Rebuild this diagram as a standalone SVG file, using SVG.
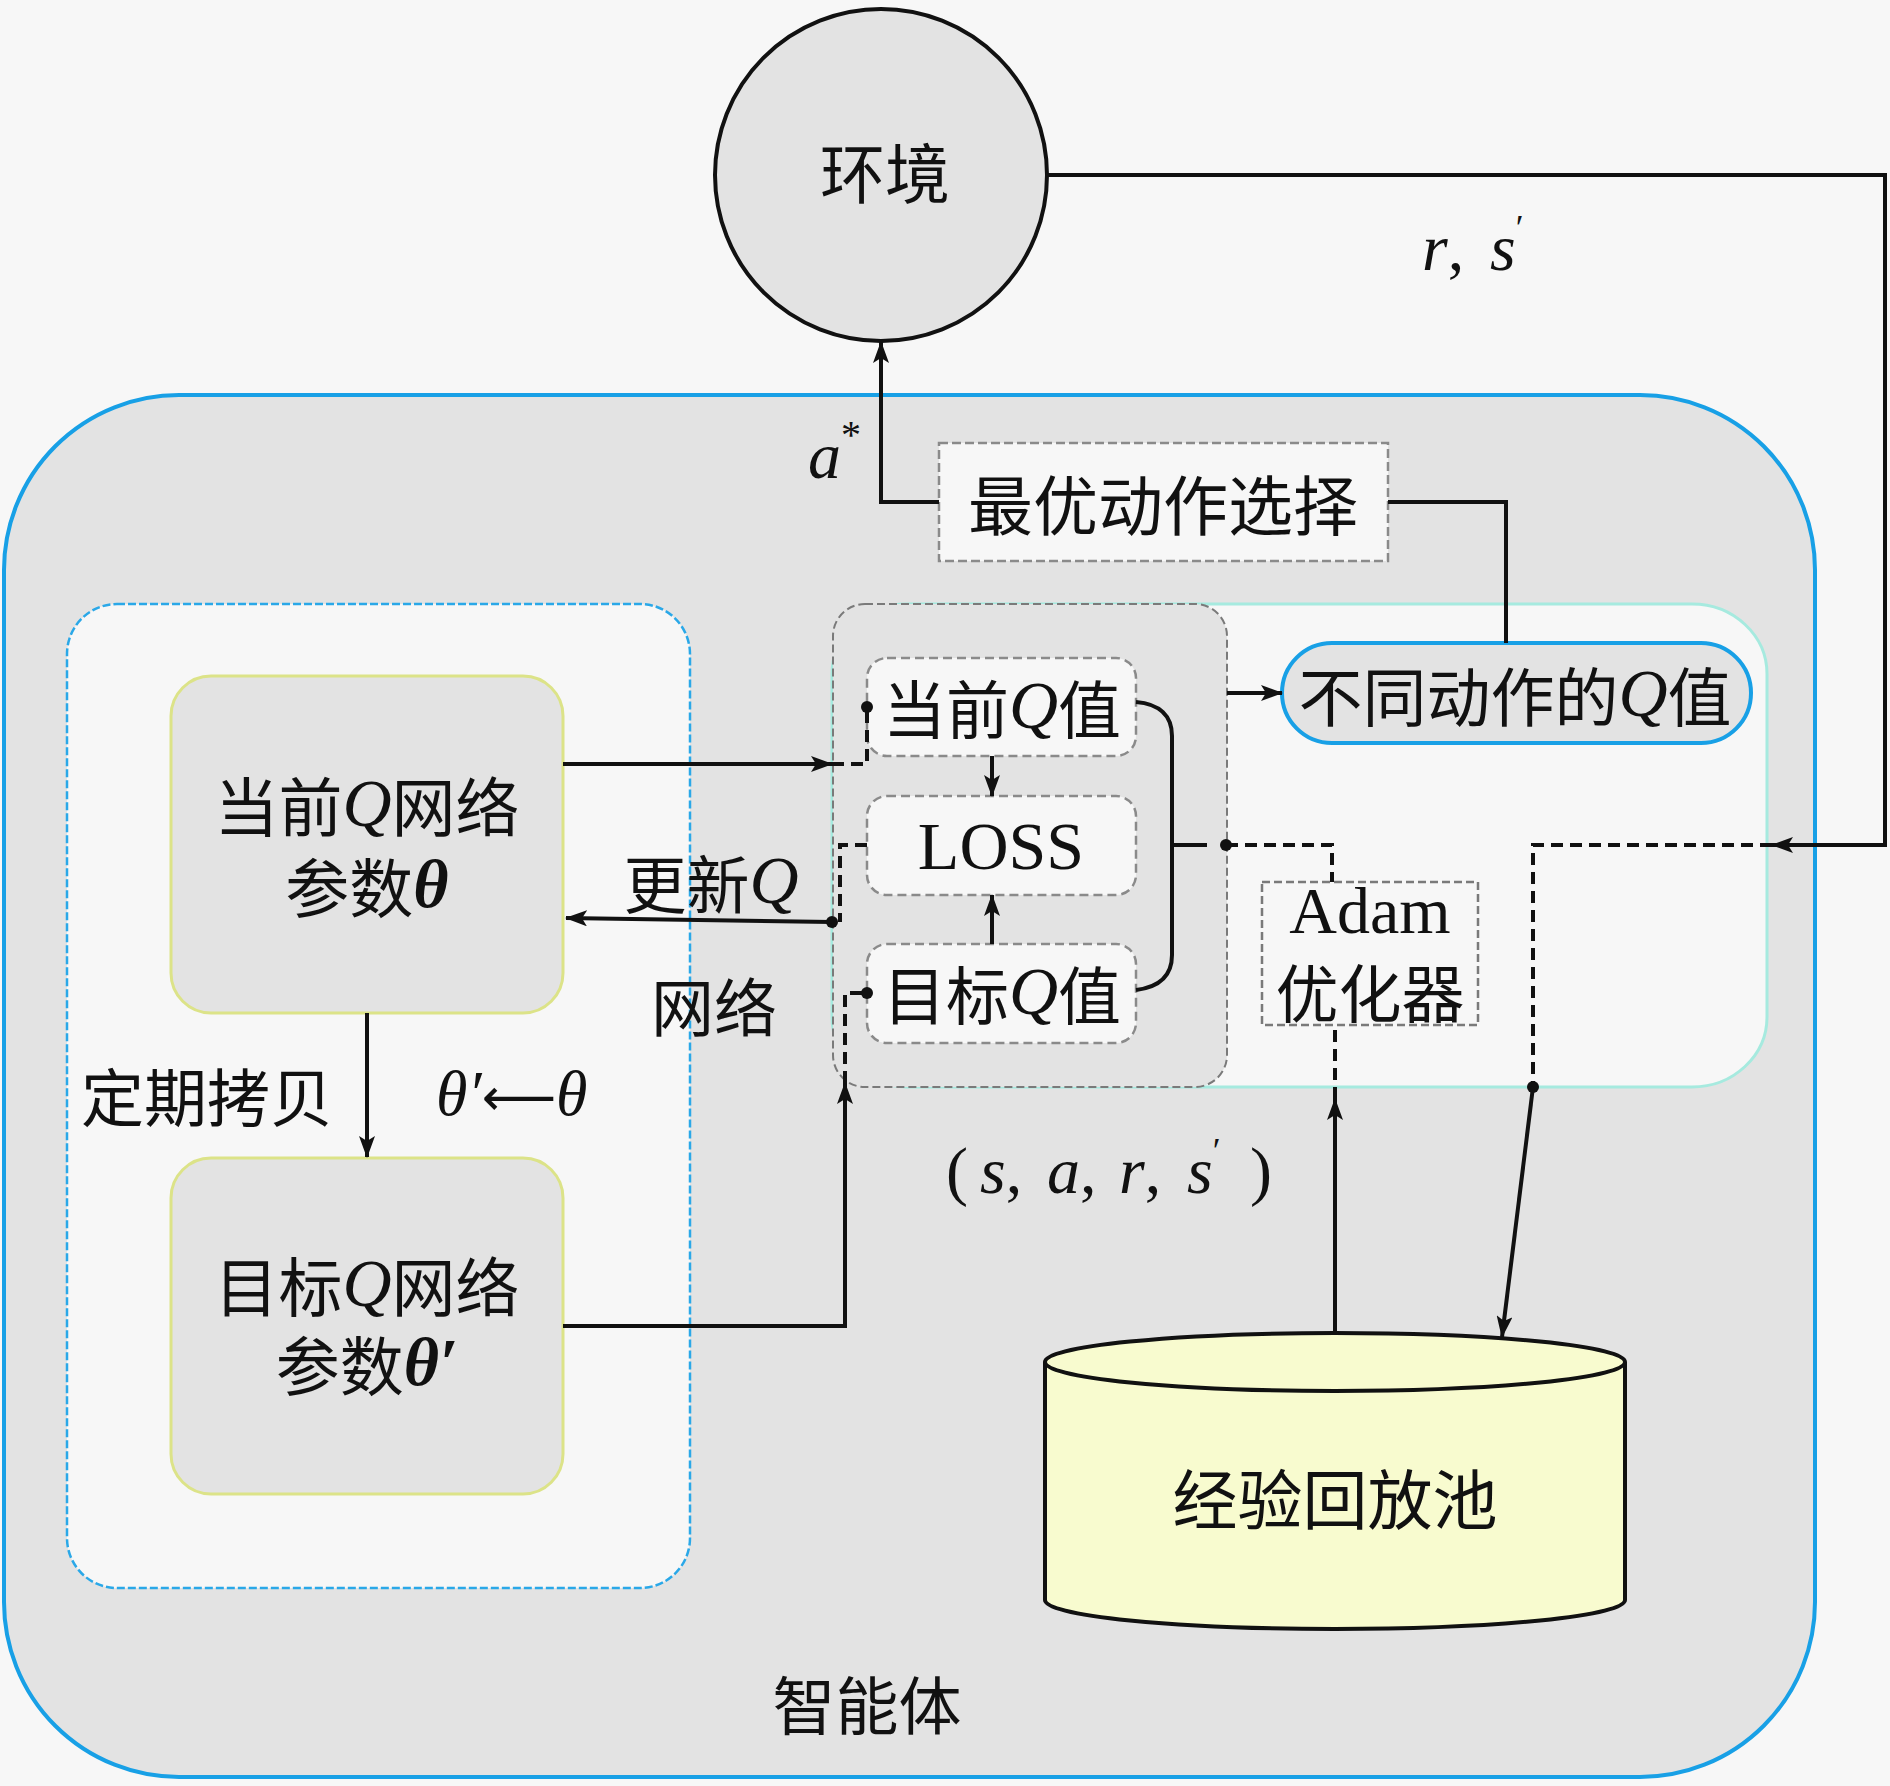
<svg xmlns="http://www.w3.org/2000/svg" width="1890" height="1786" viewBox="0 0 1890 1786">
<style>
.cjk{font-family:"Noto Sans CJK SC","Noto Sans",sans-serif;fill:#111}
.m{font-family:"Liberation Serif",serif;font-style:italic}
.rm{font-family:"Liberation Serif",serif}
.ln{fill:none;stroke:#111;stroke-width:4}
.dl{fill:none;stroke:#111;stroke-width:4;stroke-dasharray:12 7}
.qbox{fill:#f7f7f7;stroke:#8a8a8a;stroke-width:2.5;stroke-dasharray:9 5}
.net{fill:#e3e3e3;stroke:#dce388;stroke-width:3}
</style>
<defs>
<marker id="ah" viewBox="0 0 22 16" refX="21" refY="8" markerWidth="22" markerHeight="16" markerUnits="userSpaceOnUse" orient="auto"><path d="M0,0 L22,8 L0,16 L5,8 z" fill="#111"/></marker>
</defs>
<rect x="0" y="0" width="1890" height="1786" fill="#f7f7f7"/>

<g id="agent">
<rect x="4" y="395" width="1811" height="1382" rx="175" ry="175" fill="#e3e3e3" stroke="#18a0e6" stroke-width="4"/>
<text class="cjk" x="867" y="1701" font-size="63" text-anchor="middle" dominant-baseline="central">智能体</text>
</g>

<g id="env">
<circle cx="881" cy="175" r="166" fill="#e3e3e3" stroke="#111" stroke-width="4"/>
<text class="cjk" x="885" y="170" font-size="65" text-anchor="middle" dominant-baseline="central">环境</text>
</g>

<g id="left-container">
<rect x="67" y="604" width="623" height="984" rx="50" ry="50" fill="#f7f7f7" stroke="#2aa8e8" stroke-width="2.5" stroke-dasharray="8 3"/>
</g>

<g id="right-container">
<rect x="832" y="604" width="935" height="483" rx="75" ry="70" fill="#f7f7f7" stroke="#a6eadf" stroke-width="3"/>
</g>

<g id="loss-container">
<rect x="833" y="604" width="394" height="483" rx="32" ry="32" fill="#e3e3e3" stroke="#7a7a7a" stroke-width="2" stroke-dasharray="8 4"/>
</g>

<g id="best-action">
<rect x="939" y="443" width="449" height="118" fill="#f7f7f7" stroke="#8a8a8a" stroke-width="2.5" stroke-dasharray="9 4"/>
<text class="cjk" x="1163" y="502" font-size="65" text-anchor="middle" dominant-baseline="central">最优动作选择</text>
</g>

<g id="q-values">
<rect x="1282" y="643" width="469" height="100" rx="50" ry="50" fill="#e3e3e3" stroke="#18a0e6" stroke-width="4"/>
<text class="cjk" x="1515" y="693" font-size="64" text-anchor="middle" dominant-baseline="central">不同动作的<tspan class="m" font-size="68">Q</tspan>值</text>
</g>

<g id="current-q">
<rect class="qbox" x="867" y="658" width="269" height="98" rx="20" ry="20"/>
<text class="cjk" x="1002" y="705" font-size="63" text-anchor="middle" dominant-baseline="central">当前<tspan class="m" font-size="68">Q</tspan>值</text>
</g>

<g id="loss">
<rect class="qbox" x="867" y="796" width="269" height="99" rx="20" ry="20"/>
<text class="rm" x="1001" y="869" font-size="68" text-anchor="middle" fill="#111">LOSS</text>
</g>

<g id="target-q">
<rect class="qbox" x="867" y="944" width="269" height="99" rx="20" ry="20"/>
<text class="cjk" x="1002" y="991" font-size="63" text-anchor="middle" dominant-baseline="central">目标<tspan class="m" font-size="68">Q</tspan>值</text>
</g>

<g id="adam">
<rect x="1262" y="882" width="216" height="143" fill="#f7f7f7" stroke="#7a7a7a" stroke-width="2.5" stroke-dasharray="8 4"/>
<text class="rm" x="1370" y="933" font-size="66" text-anchor="middle" fill="#111">Adam</text>
<text class="cjk" x="1370" y="989" font-size="63" text-anchor="middle" dominant-baseline="central">优化器</text>
</g>

<g id="current-net">
<rect class="net" x="171" y="676" width="392" height="337" rx="40" ry="40"/>
<text class="cjk" x="367" y="803" font-size="64" text-anchor="middle" dominant-baseline="central">当前<tspan class="m" font-size="68">Q</tspan>网络</text>
<text class="cjk" x="367" y="884" font-size="64" text-anchor="middle" dominant-baseline="central">参数<tspan class="m" font-weight="bold" font-size="68">θ</tspan></text>
</g>

<g id="target-net">
<rect class="net" x="171" y="1158" width="392" height="336" rx="40" ry="40"/>
<text class="cjk" x="367" y="1283" font-size="64" text-anchor="middle" dominant-baseline="central">目标<tspan class="m" font-size="68">Q</tspan>网络</text>
<text class="cjk" x="367" y="1362" font-size="64" text-anchor="middle" dominant-baseline="central">参数<tspan class="m" font-weight="bold" font-size="68">θ′</tspan></text>
</g>

<g id="replay">
<path d="M1045,1362 V1600 A290,29 0 0 0 1625,1600 V1362" fill="#f8fbcf" stroke="#111" stroke-width="4"/>
<ellipse cx="1335" cy="1362" rx="290" ry="29" fill="#f8fbcf" stroke="#111" stroke-width="4"/>
<text class="cjk" x="1335" y="1496" font-size="65" text-anchor="middle" dominant-baseline="central">经验回放池</text>
</g>

<g id="connectors">
<path class="ln" d="M1048,175 H1885 V845 H1772" marker-end="url(#ah)"/>
<path class="dl" d="M1772,845 H1533 V1087"/>
<circle cx="1533" cy="1087" r="6" fill="#111"/>
<path class="ln" d="M1533,1087 L1502,1337" marker-end="url(#ah)"/>
<path class="ln" d="M939,502 H881 V342" marker-end="url(#ah)"/>
<path class="ln" d="M1506,643 V502 H1388"/>
<path class="ln" d="M563,764 H832" marker-end="url(#ah)"/>
<path class="dl" d="M832,764 H867 V707"/>
<circle cx="867" cy="707" r="6" fill="#111"/>
<path class="ln" d="M1227,693 H1282" marker-end="url(#ah)"/>
<path class="ln" d="M992,756 V796" marker-end="url(#ah)"/>
<path class="ln" d="M992,944 V895" marker-end="url(#ah)"/>
<path class="ln" d="M1136,702 C1160,704 1172,716 1172,736 V955 C1172,975 1160,987 1136,990"/>
<path class="ln" d="M1172,845 H1207"/>
<circle cx="1226" cy="845" r="6" fill="#111"/>
<path class="dl" d="M1226,845 H1332 V882"/>
<path class="ln" d="M1335,1334 V1099" marker-end="url(#ah)"/>
<path class="dl" d="M1335,1099 V1025"/>
<path class="dl" d="M867,845 H840 V922"/>
<circle cx="832" cy="922" r="6" fill="#111"/>
<path class="ln" d="M832,922 L566,918" marker-end="url(#ah)"/>
<path class="ln" d="M367,1013 V1157" marker-end="url(#ah)"/>
<path class="ln" d="M563,1326 H845 V1083" marker-end="url(#ah)"/>
<path class="dl" d="M845,1083 V993 H867"/>
<circle cx="867" cy="993" r="6" fill="#111"/>
</g>

<g id="labels">
<text class="m" x="808" y="478" font-size="66" fill="#111">a<tspan font-style="normal" font-size="40" dy="-30">*</tspan></text>
<text class="m" x="1422" y="270" font-size="66" fill="#111">r<tspan font-style="normal">,</tspan><tspan x="1490">s</tspan><tspan font-style="normal" font-size="36" dy="-30">′</tspan></text>
<text class="m" x="946" y="1193" font-size="66" fill="#111"><tspan font-style="normal">(</tspan><tspan x="980">s</tspan><tspan font-style="normal">,</tspan><tspan x="1047">a</tspan><tspan font-style="normal">,</tspan><tspan x="1119">r</tspan><tspan font-style="normal">,</tspan><tspan x="1187">s</tspan><tspan font-style="normal" font-size="36" dy="-30">′</tspan><tspan x="1250" font-style="normal" font-size="66" dy="30">)</tspan></text>
<text class="cjk" x="711" y="880" font-size="63" text-anchor="middle" dominant-baseline="central">更新<tspan class="m" font-size="68">Q</tspan></text>
<text class="cjk" x="714" y="1003" font-size="63" text-anchor="middle" dominant-baseline="central">网络</text>
<text class="cjk" x="207" y="1093" font-size="63" text-anchor="middle" dominant-baseline="central">定期拷贝</text>
<text class="m" x="436" y="1115" font-size="64" fill="#111">θ′<tspan font-family="DejaVu Sans" font-style="normal" font-size="52">⟵</tspan>θ</text>
</g>
</svg>
